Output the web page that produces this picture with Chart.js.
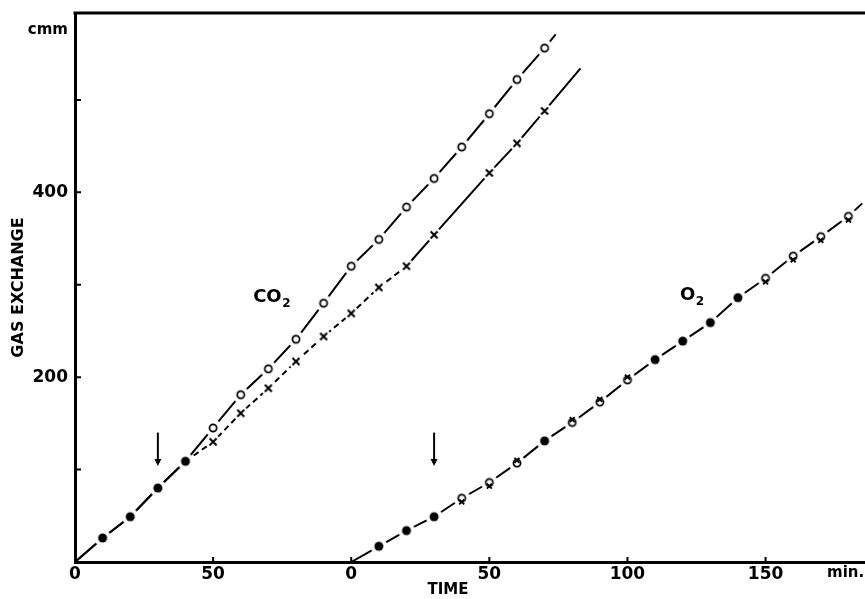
<!DOCTYPE html>
<html>
<head>
<meta charset="utf-8">
<script src="https://cdn.jsdelivr.net/npm/chart.js@4"></script>
<style>
  html, body { margin: 0; padding: 0; background: #fff; }
  #wrap { width: 865px; height: 599px; }
</style>
</head>
<body>
<div id="wrap"><canvas id="gasChart" width="865" height="599"></canvas></div>
<script>
// one running time axis (min): the CO2 run starts at 0, the O2 run at 100
const co2Times      = [0, 10, 20, 30, 40, 50, 60, 70, 80, 90, 100, 110, 120, 130, 140, 150, 160, 170, 174];
const co2Circles    = [0, 26, 49, 80, 109, 145, 181, 209, 241, 280, 320, 349, 384, 415, 449, 485, 522, 556, 571];
const co2CrossTimes = [0, 10, 20, 30, 40, 50, 60, 70, 80, 90, 100, 110, 120, 130, 150, 160, 170, 183];
const co2Crosses    = [0, 26, 49, 80, 109, 130, 161, 188, 217, 244, 269, 297, 320, 354, 421, 453, 488, 534];

const o2Times   = [100, 110, 120, 130, 140, 150, 160, 170, 180, 190, 200, 210, 220, 230, 240, 250, 260, 270, 280, 285];
const o2Circles = [0, 17, 34, 49, 69, 86, 107, 131, 151, 173, 197, 219, 239, 259, 286, 307, 331, 352, 374, 388];
const o2Crosses = [0, 17, 34, 49, 65, 82, 110, 131, 154, 176, 200, 219, 239, 259, 286, 303, 327, 348, 370, 388];

const arrowTimes = [30, 130];

const xTickValues = [0, 50, 100, 150, 200, 250];
const xTickLabels = ['0', '50', '0', '50', '100', '150'];
const yTickValues = [100, 200, 300, 400, 500];
const yTickLabels = ['', '200', '', '400', ''];

const FONT = "'DejaVu Sans', sans-serif";
Chart.defaults.font.family = FONT;
Chart.defaults.font.weight = 'bold';
Chart.defaults.color = '#000';

// marker images with a white halo so the line breaks around each mark
function marker(kind) {
    const c = document.createElement('canvas');
    c.width = 20; c.height = 20;
    const g = c.getContext('2d');
    g.fillStyle = '#fff';
    g.beginPath(); g.arc(10, 10, kind === 'cross' ? 7.5 : 8.5, 0, Math.PI * 2); g.fill();
    g.strokeStyle = '#000'; g.fillStyle = '#000';
    if (kind === 'ring') {
        g.lineWidth = 1.7;
        g.beginPath(); g.arc(10, 10, 3.6, 0, Math.PI * 2); g.stroke();
    } else if (kind === 'dot') {
        g.beginPath(); g.arc(10, 10, 4.5, 0, Math.PI * 2); g.fill();
    } else {
        g.lineWidth = 2;
        g.beginPath();
        g.moveTo(6.5, 6.5); g.lineTo(13.5, 13.5);
        g.moveTo(13.5, 6.5); g.lineTo(6.5, 13.5);
        g.stroke();
    }
    return c;
}
const ringImg = marker('ring');
const dotImg = marker('dot');
const crossImg = marker('cross');

const pts = (xs, ys) => xs.map((x, i) => ({ x: x, y: ys[i] }));

// circle and cross coincide -> looks like a filled dot
function co2Same(i) {
    const j = co2CrossTimes.indexOf(co2Times[i]);
    return j >= 0 && co2Crosses[j] === co2Circles[i];
}
function co2CrossSame(i) {
    const j = co2Times.indexOf(co2CrossTimes[i]);
    return j >= 0 && co2Circles[j] === co2Crosses[i];
}
const isEnd = (ctx, arr) => ctx.dataIndex === 0 || ctx.dataIndex === arr.length - 1;

const extras = {
    id: 'extras',
    afterDraw(chart) {
        const ctx = chart.ctx;
        const xs = chart.scales.x, ys = chart.scales.y;
        const area = chart.chartArea;
        ctx.save();
        ctx.strokeStyle = '#000';
        ctx.fillStyle = '#000';

        // top frame line
        ctx.lineWidth = 3;
        ctx.beginPath();
        ctx.moveTo(area.left - 1.5, area.top);
        ctx.lineTo(area.right, area.top);
        ctx.stroke();

        // small inward tick marks
        ctx.lineWidth = 2;
        ctx.beginPath();
        yTickValues.forEach(v => {
            const y = ys.getPixelForValue(v);
            ctx.moveTo(area.left, y);
            ctx.lineTo(area.left + 6, y);
        });
        xTickValues.slice(1).forEach(v => {
            const x = xs.getPixelForValue(v);
            ctx.moveTo(x, area.bottom);
            ctx.lineTo(x, area.bottom - 5);
        });
        ctx.stroke();

        // arrows marking the change of conditions
        arrowTimes.forEach(t => {
            const x = xs.getPixelForValue(t);
            const y0 = ys.getPixelForValue(140);
            const y1 = ys.getPixelForValue(104);
            ctx.lineWidth = 2;
            ctx.beginPath();
            ctx.moveTo(x, y0);
            ctx.lineTo(x, y1 - 5);
            ctx.stroke();
            ctx.beginPath();
            ctx.moveTo(x - 3.5, y1 - 7);
            ctx.lineTo(x + 3.5, y1 - 7);
            ctx.lineTo(x, y1);
            ctx.closePath();
            ctx.fill();
        });

        // curve labels with subscript
        ctx.textAlign = 'left';
        ctx.textBaseline = 'alphabetic';
        [['CO', 64.5, 281], ['O', 219, 283]].forEach(([txt, t, v]) => {
            const x = xs.getPixelForValue(t);
            const y = ys.getPixelForValue(v);
            ctx.font = 'bold 18px ' + FONT;
            ctx.fillText(txt, x, y);
            const w = ctx.measureText(txt).width;
            ctx.font = 'bold 12px ' + FONT;
            ctx.fillText('2', x + w + 0.5, y + 5);
        });

        // axis title under the time axis
        ctx.font = 'bold 15px ' + FONT;
        ctx.textAlign = 'center';
        ctx.textBaseline = 'middle';
        ctx.fillText('TIME', xs.getPixelForValue(135), area.bottom + 28);
        ctx.restore();
    }
};

new Chart(document.getElementById('gasChart'), {
    type: 'line',
    data: {
        datasets: [
            {
                label: 'O2 x',
                data: pts(o2Times, o2Crosses),
                showLine: false,
                pointStyle: 'crossRot',
                pointBorderColor: '#000',
                pointBorderWidth: 1.8,
                pointRadius: ctx => (isEnd(ctx, o2Times) || o2Crosses[ctx.dataIndex] === o2Circles[ctx.dataIndex]) ? 0 : 3.5
            },
            {
                label: 'O2 o',
                data: pts(o2Times, o2Circles),
                borderColor: '#000',
                borderWidth: 2,
                pointStyle: ctx => o2Crosses[ctx.dataIndex] === o2Circles[ctx.dataIndex] ? dotImg : ringImg,
                pointRadius: ctx => isEnd(ctx, o2Times) ? 0 : 4
            },
            {
                label: 'CO2 o',
                data: pts(co2Times, co2Circles),
                borderColor: '#000',
                borderWidth: 2,
                pointStyle: ctx => co2Same(ctx.dataIndex) ? dotImg : ringImg,
                pointRadius: ctx => isEnd(ctx, co2Times) ? 0 : 4
            },
            {
                label: 'CO2 x',
                data: pts(co2CrossTimes, co2Crosses),
                borderColor: '#000',
                borderWidth: 2,
                segment: {
                    borderDash: ctx => (ctx.p1.parsed.x > 40 && ctx.p1.parsed.x <= 120) ? [6, 4] : []
                },
                pointStyle: crossImg,
                pointRadius: ctx => (isEnd(ctx, co2CrossTimes) || co2CrossSame(ctx.dataIndex)) ? 0 : 4
            }
        ]
    },
    options: {
        responsive: false,
        animation: false,
        events: [],
        tension: 0,
        layout: { padding: { top: 13, left: 0, right: 0, bottom: 0 } },
        plugins: {
            legend: { display: false },
            tooltip: { enabled: false }
        },
        scales: {
            x: {
                type: 'linear',
                min: 0,
                max: 286,
                grid: { display: false, drawTicks: false },
                border: { display: true, color: '#000', width: 3 },
                afterBuildTicks: s => {
                    s.ticks = xTickValues.map(v => ({ value: v })).concat([{ value: 279 }]);
                },
                afterFit: s => {
                    s.height = 37;
                    s.paddingLeft = 0;
                    s.paddingRight = 0;
                },
                ticks: {
                    autoSkip: false,
                    maxRotation: 0,
                    padding: 2,
                    font: ctx => ({ size: ctx.tick && ctx.tick.value === 279 ? 15 : 17, weight: 'bold' }),
                    callback: v => {
                        if (v === 279) return 'min.';
                        const i = xTickValues.indexOf(v);
                        return i >= 0 ? xTickLabels[i] : '';
                    }
                }
            },
            y: {
                min: 0,
                max: 594,
                grid: { display: false, drawTicks: false },
                border: { display: true, color: '#000', width: 3 },
                afterBuildTicks: s => {
                    s.ticks = yTickValues.map(v => ({ value: v })).concat([{ value: 575 }]);
                },
                afterFit: s => {
                    s.width = 75;
                    s.paddingTop = 0;
                    s.paddingBottom = 0;
                },
                title: {
                    display: true,
                    text: 'GAS EXCHANGE',
                    font: { size: 16, weight: 'bold' },
                    padding: { top: 9, bottom: 0 }
                },
                ticks: {
                    padding: 7,
                    font: ctx => ({ size: ctx.tick && ctx.tick.value === 575 ? 15 : 17, weight: 'bold' }),
                    callback: v => {
                        if (v === 575) return 'cmm';
                        const i = yTickValues.indexOf(v);
                        return i >= 0 ? yTickLabels[i] : '';
                    }
                }
            }
        }
    },
    plugins: [extras]
});
</script>
</body>
</html>
